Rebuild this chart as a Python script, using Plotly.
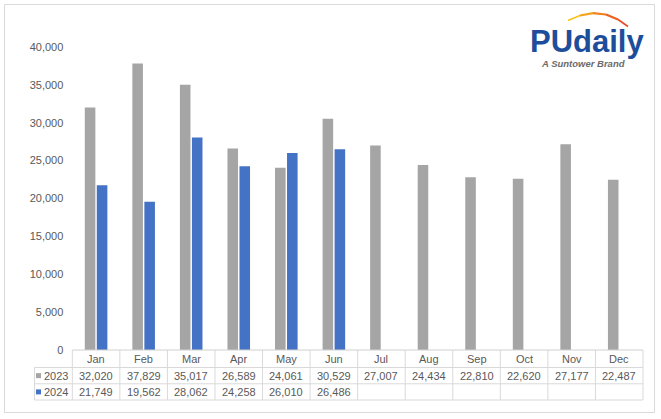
import plotly.graph_objects as go

months = ["Jan", "Feb", "Mar", "Apr", "May", "Jun", "Jul", "Aug", "Sep", "Oct", "Nov", "Dec"]
series_names = ["2023", "2024"]
values_2023 = [32020, 37829, 35017, 26589, 24061, 30529, 27007, 24434, 22810, 22620, 27177, 22487]
values_2024 = [21749, 19562, 28062, 24258, 26010, 26486]
colors = ["#A5A5A5", "#4472C4"]
y_ticks = [0, 5000, 10000, 15000, 20000, 25000, 30000, 35000, 40000]

W, H = 661, 419
FONT = "Liberation Sans, Arial, sans-serif"
TXT = "#595959"
GRID = "#D9D9D9"


def px(x):
    return x / W


def py(y):
    return 1 - y / H


X0, X1 = 72.3, 643.0   # plot / table column span (pixels)
Y_TOP, Y_ZERO = 47.0, 350.0
ROW_Y = [350.0, 367.5, 383.8, 400.0]
LABEL_X0 = 34.5
ncol = len(months)
colw = (X1 - X0) / ncol

fig = go.Figure()
series_vals = [values_2023, values_2024]
for name, vals, c in zip(series_names, series_vals, colors):
    fig.add_trace(go.Bar(x=months[:len(vals)], y=vals, name=name,
                         marker=dict(color=c, line=dict(width=0)),
                         showlegend=False, hoverinfo="x+y"))

shapes = []
# outer frame
shapes.append(dict(type="rect", xref="paper", yref="paper",
                   x0=px(4.5), x1=px(654.5), y0=py(412.5), y1=py(4.5),
                   line=dict(color="#D9D9D9", width=1)))
# table horizontal lines
shapes.append(dict(type="line", xref="paper", yref="paper",
                   x0=px(X0), x1=px(X1), y0=py(ROW_Y[0]), y1=py(ROW_Y[0]),
                   line=dict(color="#D0D0D0", width=1)))
for yy in ROW_Y[1:]:
    shapes.append(dict(type="line", xref="paper", yref="paper",
                       x0=px(LABEL_X0), x1=px(X1), y0=py(yy), y1=py(yy),
                       line=dict(color=GRID, width=1)))
# table vertical lines
for k in range(ncol + 1):
    xx = X0 + k * colw
    shapes.append(dict(type="line", xref="paper", yref="paper",
                       x0=px(xx), x1=px(xx), y0=py(ROW_Y[0]), y1=py(ROW_Y[3]),
                       line=dict(color=GRID, width=1)))
shapes.append(dict(type="line", xref="paper", yref="paper",
                   x0=px(LABEL_X0), x1=px(LABEL_X0), y0=py(ROW_Y[1]), y1=py(ROW_Y[3]),
                   line=dict(color=GRID, width=1)))
# legend keys
for i, c in enumerate(colors):
    yc = (ROW_Y[i + 1] + ROW_Y[i + 2]) / 2
    shapes.append(dict(type="rect", xref="paper", yref="paper",
                       x0=px(36), x1=px(41), y0=py(yc + 2.5), y1=py(yc - 2.5),
                       fillcolor=c, line=dict(width=0)))

# logo arc (gradient approximated by segments)
arc_cols = ["#F9C31A", "#F7A21B", "#F3801F", "#EE5F22", "#E84A24"]
arc_pts = [(568, 20.5), (580, 15.5), (593, 13.2), (606, 14.5), (618, 19.5), (628, 26.5)]
for i in range(len(arc_pts) - 1):
    (xa, ya), (xb, yb) = arc_pts[i], arc_pts[i + 1]
    shapes.append(dict(type="line", xref="paper", yref="paper",
                       x0=px(xa), y0=py(ya), x1=px(xb), y1=py(yb),
                       line=dict(color=arc_cols[i], width=2.2 if i in (1, 2, 3) else 1.6)))

ann = []
# header row
for k, m in enumerate(months):
    xc = X0 + (k + 0.5) * colw
    ann.append(dict(x=px(xc), y=py((ROW_Y[0] + ROW_Y[1]) / 2), xref="paper", yref="paper",
                    text=m, showarrow=False, xanchor="center", yanchor="middle",
                    font=dict(family=FONT, size=11, color=TXT)))
# data rows
for r, (name, vals) in enumerate(zip(series_names, series_vals)):
    yc = (ROW_Y[r + 1] + ROW_Y[r + 2]) / 2
    ann.append(dict(x=px(41.5), y=py(yc), xref="paper", yref="paper",
                    text=name, showarrow=False, xanchor="left", yanchor="middle",
                    font=dict(family=FONT, size=11, color=TXT)))
    for k, v in enumerate(vals):
        xc = X0 + (k + 0.5) * colw
        ann.append(dict(x=px(xc), y=py(yc), xref="paper", yref="paper",
                        text=f"{v:,}", showarrow=False, xanchor="center", yanchor="middle",
                        font=dict(family=FONT, size=11, color=TXT)))
# logo text
ann.append(dict(x=px(587), y=py(41), xref="paper", yref="paper",
                text="<b>PUdaily</b>", showarrow=False, xanchor="center", yanchor="middle",
                font=dict(family="Liberation Sans, Arial, sans-serif", size=31, color="#1E4E9B")))
ann.append(dict(x=px(583), y=py(63), xref="paper", yref="paper",
                text="<b><i>A Suntower Brand</i></b>", showarrow=False, xanchor="center", yanchor="middle",
                font=dict(family="Liberation Sans, Arial, sans-serif", size=9.5, color="#6B6B6B")))

fig.update_layout(
    width=W, height=H,
    margin=dict(l=0, r=0, t=0, b=0, pad=0, autoexpand=False),
    paper_bgcolor="white", plot_bgcolor="white",
    barmode="group", bargap=0.495, bargroupgap=0.12,
    showlegend=False,
    xaxis=dict(domain=[px(X0), px(X1)], type="category", categoryorder="array",
               categoryarray=months, range=[-0.5, 11.5], automargin=False,
               showticklabels=False, showgrid=False, showline=False, zeroline=False, ticks=""),
    yaxis=dict(domain=[py(Y_ZERO), py(Y_TOP)], range=[0, 40000], tickvals=y_ticks,
               tickformat=",", showgrid=False, showline=False, zeroline=False, ticks="",
               automargin=False, ticklabelstandoff=8,
               tickfont=dict(family=FONT, size=11, color=TXT)),
    shapes=shapes, annotations=ann,
)

fig.write_html("out.html", config={"displayModeBar": False},
               post_script="document.body.style.margin='0';")
